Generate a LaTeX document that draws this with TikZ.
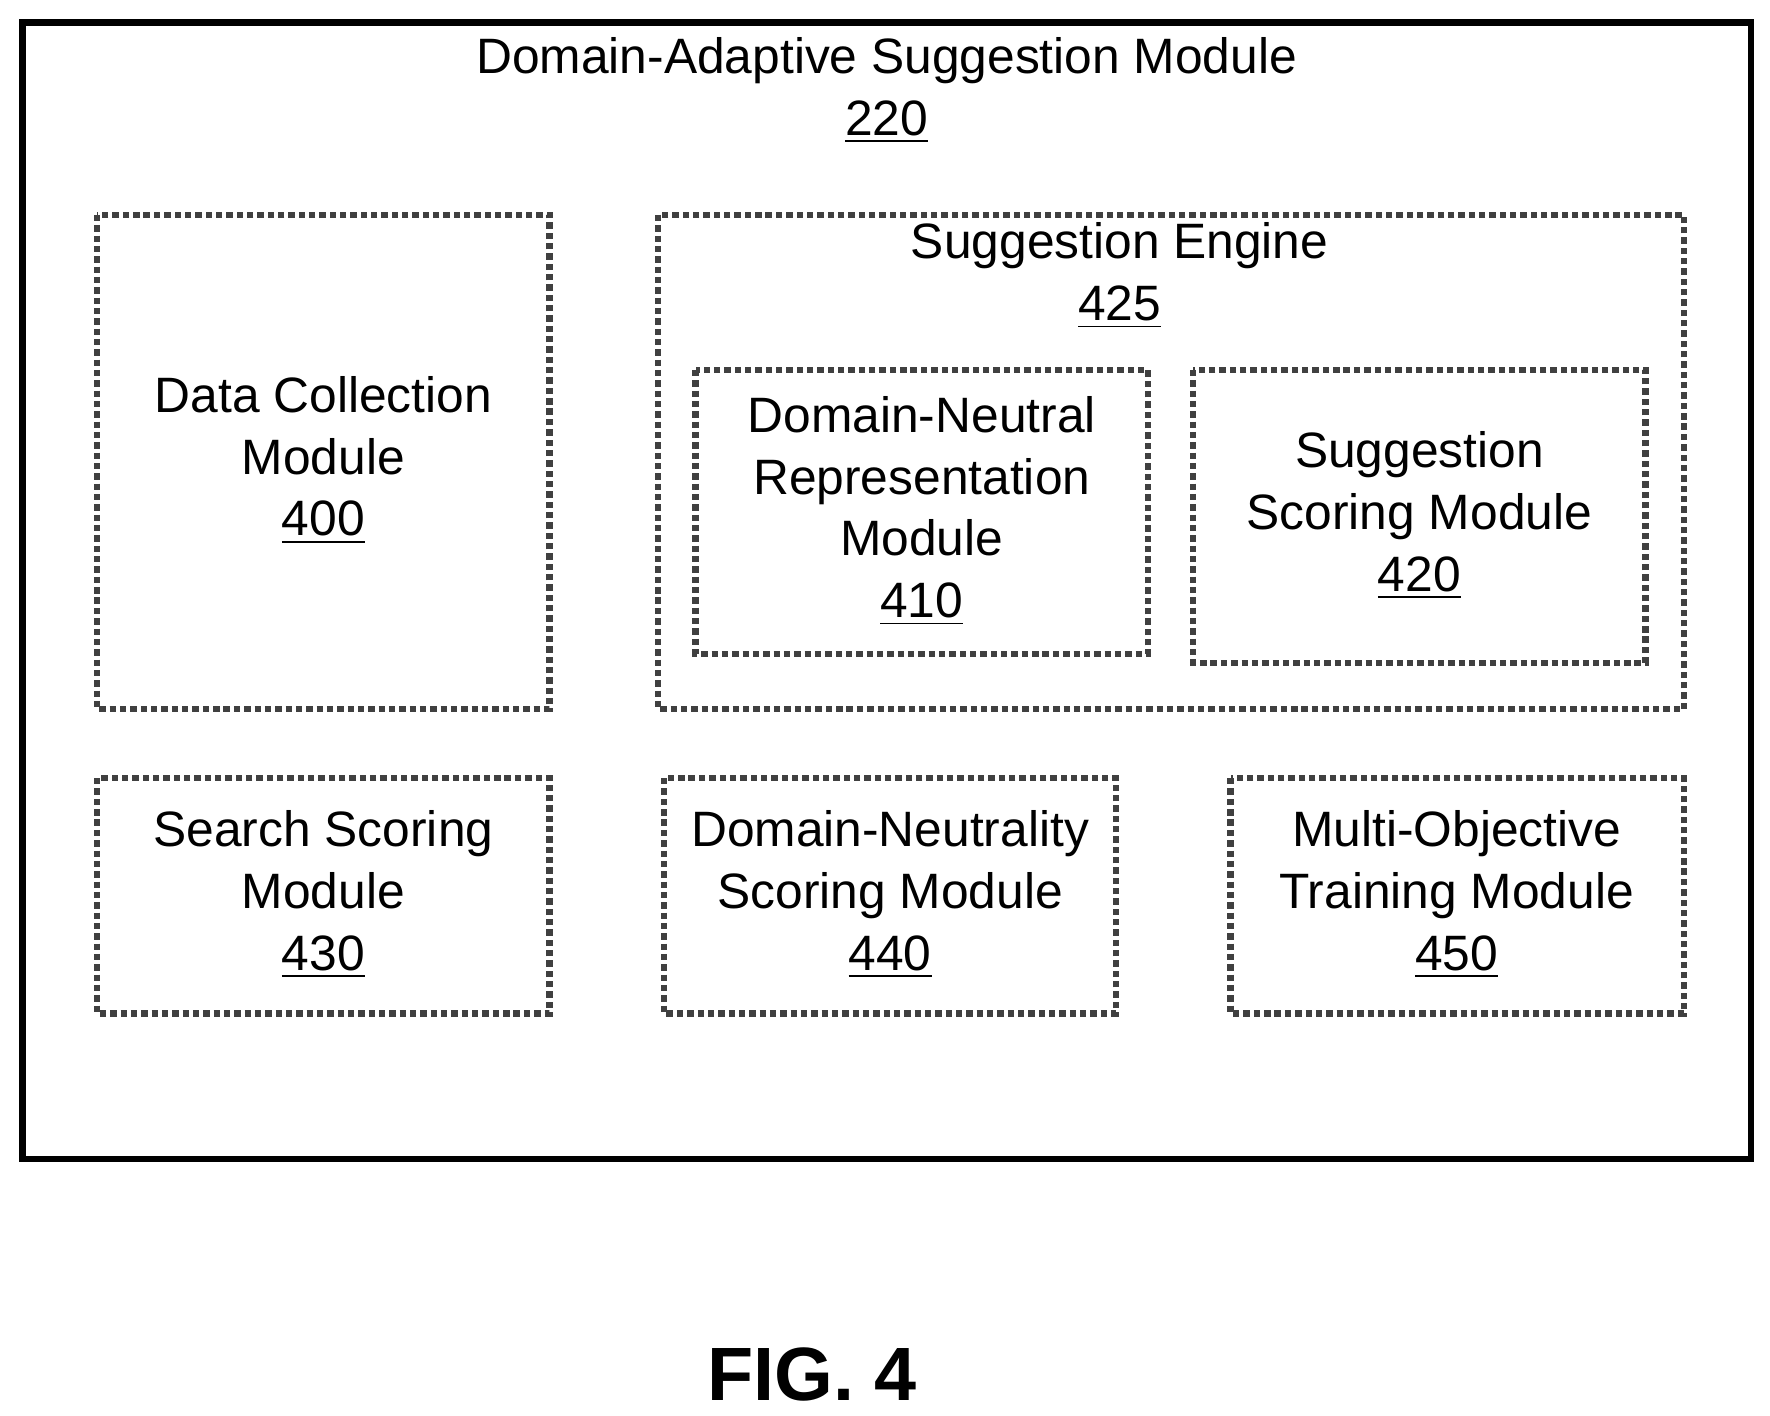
\documentclass[tikz,border=0pt]{standalone}
\usepackage{fontspec}
\setmainfont{Liberation Sans}
\usetikzlibrary{positioning}
\tikzstyle{every node}=[font=\fontsize{12.5}{15.5}\selectfont,align=center,inner sep=0pt]
\tikzstyle{module}=[draw=black!75,densely dotted,line width=1.6pt,rectangle]
\newcommand{\refnum}[1]{\underline{#1}}

\begin{document}
\begin{tikzpicture}[x=0.01cm,y=-0.01cm]
    \useasboundingbox (0,0) rectangle (1565,1252);
    % outer module
    \draw[line width=1.6pt] (20,20) rectangle (1548,1025);
    \node (dasm) at (784,80) {Domain-Adaptive Suggestion Module\\\refnum{220}};

    % left column
    \draw[module] (86,190) rectangle (486,627);
    \node (dcm) at (286,407) {Data Collection\\Module\\\refnum{400}};

    % suggestion engine
    \draw[module] (582,190) rectangle (1489,627);
    \node (se) at (990,244) {Suggestion Engine\\\refnum{425}};
    \draw[module] (615,327) rectangle (1015,578);
    \node (dnrm) at (815,452) {Domain-Neutral\\Representation\\Module\\\refnum{410}};
    \draw[module] (1055,327) rectangle (1455,586);
    \node (ssm) at (1255,456) {Suggestion\\Scoring Module\\\refnum{420}};

    % bottom row
    \draw[module] (86,688) rectangle (486,896);
    \node (srch) at (286,791) {Search Scoring\\Module\\\refnum{430}};
    \draw[module] (587,688) rectangle (987,896);
    \node (dnsm) at (787,791) {Domain-Neutrality\\Scoring Module\\\refnum{440}};
    \draw[module] (1088,688) rectangle (1489,896);
    \node (motm) at (1288,791) {Multi-Objective\\Training Module\\\refnum{450}};

    \node[font=\fontsize{19}{22}\selectfont\bfseries] (fig) at (718,1215) {FIG. 4};
\end{tikzpicture}
\end{document}
